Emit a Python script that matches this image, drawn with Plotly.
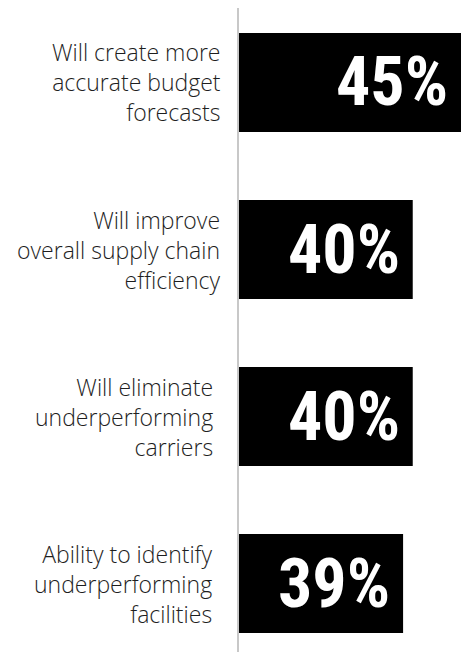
import plotly.graph_objects as go

# Survey responses: share of respondents citing each benefit
categories = [
    "Will create more<br>accurate budget<br>forecasts",
    "Will improve<br>overall supply chain<br>efficiency",
    "Will eliminate<br>underperforming<br>carriers",
    "Ability to identify<br>underperforming<br>facilities",
]
values = [45, 40, 40, 39]
value_labels = ["45%", "40%", "40%", "39%"]

label_font = dict(family="Open Sans, Liberation Sans, Arial, sans-serif",
                  size=23, color="#1e1e1e", weight=300)
pct_font = dict(family="Roboto Condensed, Roboto, sans-serif",
                size=68, color="white", weight="bold")

fig = go.Figure(
    go.Bar(
        x=values,
        y=categories,
        orientation="h",
        width=0.593,
        marker=dict(color="black", line=dict(width=0)),
        hoverinfo="skip",
    )
)

# Category labels to the left of the axis line
label_shift = [-16, -16, -24, -24]
for cat, dx in zip(categories, label_shift):
    fig.add_annotation(
        x=0, xref="paper", y=cat, yref="y",
        text=cat, showarrow=False, xanchor="right", yanchor="middle",
        align="right", xshift=dx, font=label_font,
    )

# Value labels inside the end of each bar
for cat, v, lab in zip(categories, values, value_labels):
    fig.add_annotation(
        x=v, xref="x", y=cat, yref="y",
        text=lab, showarrow=False, xanchor="right", yanchor="middle",
        xshift=-11, font=pct_font,
    )

fig.update_layout(
    width=461, height=652,
    margin=dict(l=239, r=0, t=8, b=0),
    paper_bgcolor="white", plot_bgcolor="white",
    showlegend=False,
)
fig.update_xaxes(range=[22, 45], showticklabels=False, showgrid=False,
                 zeroline=False, showline=False, fixedrange=True)
fig.update_yaxes(categoryorder="array", categoryarray=categories,
                 range=[3.41, -0.446], showticklabels=False, showgrid=False,
                 zeroline=False, showline=True, linecolor="#c8c8c8", linewidth=2,
                 ticks="", fixedrange=True)

fig.write_html("out.html")
